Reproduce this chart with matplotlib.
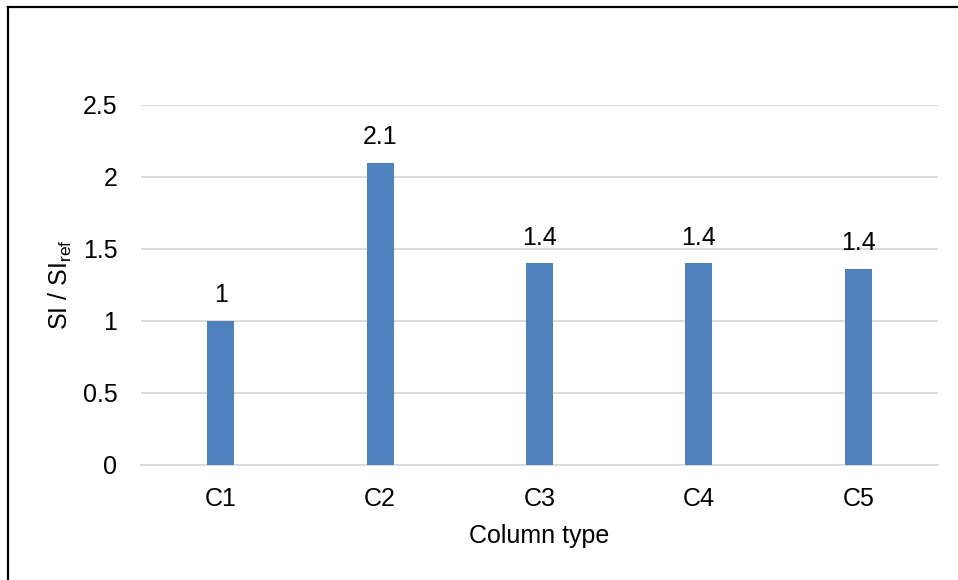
import matplotlib
matplotlib.use("Agg")

import matplotlib.pyplot as plt
from matplotlib.lines import Line2D

categories = ["C1", "C2", "C3", "C4", "C5"]
si_ratio = [1.0, 2.1, 1.4, 1.4, 1.36]
y_ticks = [0, 0.5, 1, 1.5, 2, 2.5]
y_tick_labels = ["0", "0.5", "1", "1.5", "2", "2.5"]

BAR_COLOR = "#4f81bd"
GRID_COLOR = "#d9d9d9"
FS = 18

plt.rcParams["font.family"] = ["Liberation Sans", "DejaVu Sans"]
plt.rcParams["mathtext.default"] = "regular"

W, H = 958, 580
fig = plt.figure(figsize=(W / 100, H / 100), dpi=100)
fig.patch.set_facecolor("white")

ax = fig.add_axes([141 / W, 1 - 465 / H, (938 - 141) / W, (465 - 105) / H])
x_pos = list(range(len(categories)))
bars = ax.bar(x_pos, si_ratio, width=0.17, color=BAR_COLOR, zorder=3)

for rect, val in zip(bars, si_ratio):
    label = f"{val:.1f}".rstrip("0").rstrip(".")
    ax.annotate(label, (rect.get_x() + rect.get_width() / 2, rect.get_height()),
                xytext=(0, 10), textcoords="offset points",
                ha="center", va="bottom", fontsize=FS, color="black")

ax.set_xlim(-0.5, len(categories) - 0.5)
ax.set_ylim(0, 2.5)
ax.set_yticks(y_ticks)
ax.set_yticklabels(y_tick_labels)
ax.set_xticks(x_pos)
ax.set_xticklabels(categories)
ax.tick_params(axis="both", length=0, labelsize=FS, colors="black")
ax.tick_params(axis="y", pad=17)
ax.tick_params(axis="x", pad=16)

ax.yaxis.grid(True, color=GRID_COLOR, linewidth=1.3, zorder=0)
ax.set_axisbelow(True)
for side in ["top", "right", "left"]:
    ax.spines[side].set_visible(False)
ax.spines["bottom"].set_color(GRID_COLOR)
ax.spines["bottom"].set_linewidth(1.3)

ax.set_xlabel("Column type", fontsize=FS, labelpad=9)
ax.set_ylabel("SI / SI$_{ref}$", fontsize=FS, labelpad=6)

# frame lines along top and left edge
fig.add_artist(Line2D([8 / W, 1], [1 - 6.5 / H, 1 - 6.5 / H], color="black", linewidth=1.6))
fig.add_artist(Line2D([8 / W, 8 / W], [0, 1 - 6.5 / H], color="black", linewidth=1.6))

fig.savefig("out.png", dpi=100, facecolor="white")
